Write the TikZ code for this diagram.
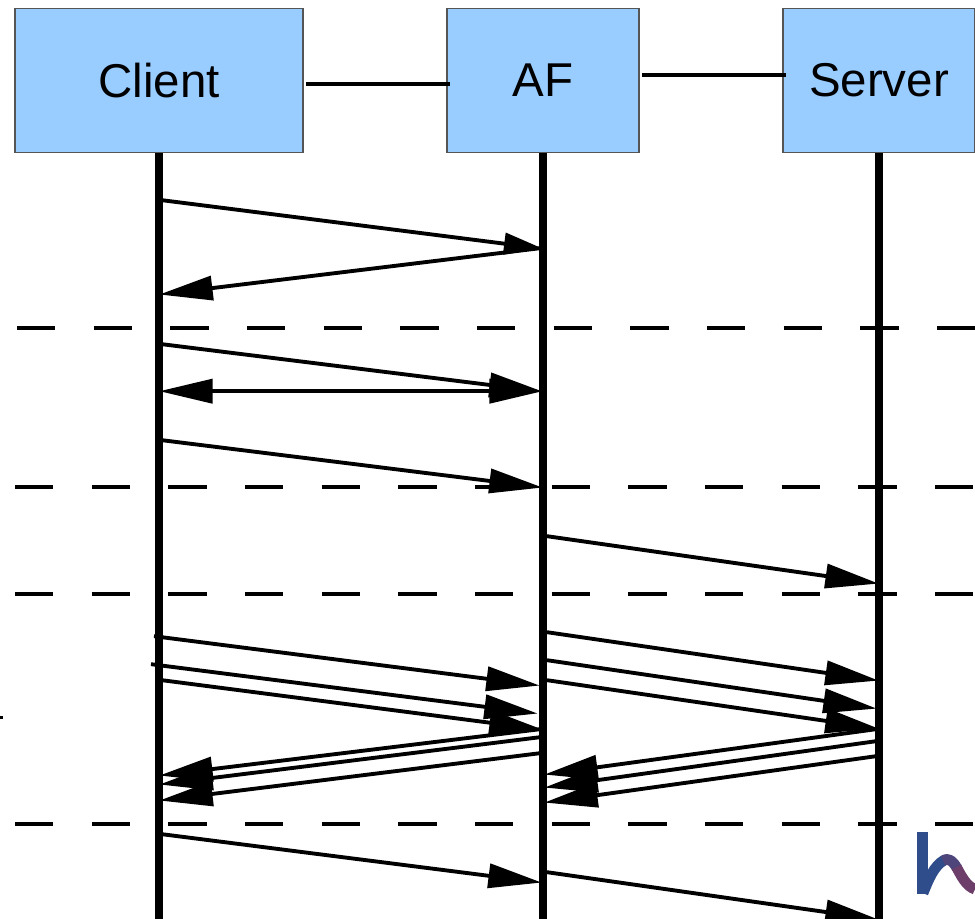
\documentclass[tikz,border=0pt]{standalone}
\usepackage{fontspec}
\setmainfont{Liberation Sans}
\usetikzlibrary{arrows.meta}
\definecolor{boxblue}{HTML}{99CCFF}
\definecolor{boxline}{HTML}{555555}
\definecolor{logoa}{HTML}{2F4D8A}
\definecolor{logob}{HTML}{7D3A62}
\tikzset{
  actor/.style={draw=boxline,line width=0.8pt,fill=boxblue,inner sep=0pt,minimum height=108pt,font=\fontsize{35.6}{42}\selectfont},
  lifeline/.style={line width=5.6pt,line cap=butt},
  link/.style={line width=2.9pt},
  divider/.style={line width=2.9pt,dash pattern=on 28.8pt off 28.7pt},
  msg/.style={line width=2.9pt,shorten >=-2pt,-{Triangle[length=40pt,width=18pt]}},
  msgshort/.style={line width=2.9pt,shorten >=-2pt,-{Triangle[length=29pt,width=16pt]}},
  msgboth/.style={line width=2.9pt,shorten >=-2pt,shorten <=-2pt,{Triangle[length=40pt,width=18pt]}-{Triangle[length=40pt,width=18pt]}},
  logostroke/.style={line width=8pt,line cap=butt,line join=round}
}
\begin{document}
\begin{tikzpicture}[x=0.75pt,y=-0.75pt]
\useasboundingbox (0,-0.2) rectangle (975,918.8);
\clip (0,-0.2) rectangle (975,918.8);
% boxes
\node[actor,minimum width=216pt] (client) at (159,80) {Client};
\node[actor,minimum width=144pt] (af) at (543,80) {AF};
\node[actor,minimum width=144pt] (server) at (879,80) {Server};
% named ends
\coordinate (cb) at (159,919); \coordinate (ab) at (543,919); \coordinate (sb) at (879,919);
\foreach \n/\xa/\ya/\xb/\yb in {
  d1/17/328/975/328, d2/15/487/975/487, d3/15/594/975/594, d4/15/824/975/824,
  l1/306/84/450/84, l2/642/75/786/75,
  m1/162/200/540/248, m2/540/248/162/294,
  m3/162/344/540/391, m4/162/391/540/391, m5/162/440/540/487,
  m6/547/536/876/583,
  m7/154/636/537/685, m8/151/664/535/713, m9/162/680/540/729,
  n1/540/729/162/775, n2/540/737/162/784, n3/540/753/162/800,
  p1/547/632/876/680, p2/547/660/874/708, p3/547/680/876/728,
  q1/876/729/547/774, q2/876/741/547/787, q3/876/756/547/802,
  r1/162/834/539/882, r2/547/872/876/919}
  {\coordinate (\n s) at (\xa,\ya); \coordinate (\n e) at (\xb,\yb);}
% dividers
\foreach \n in {d1,d2,d3,d4} \draw[divider] (\n s) -- (\n e);
% lifelines
\draw[lifeline] (client.south) -- (cb);
\draw[lifeline] (af.south) -- (ab);
\draw[lifeline] (server.south) -- (sb);
% box links
\draw[link] (l1s) -- (l1e);
\draw[link] (l2s) -- (l2e);
% messages
\draw[msgshort] (m1s) -- (m1e);
\foreach \n in {m2,m3,m5,m6,m7,m8,m9,n1,n2,n3,p1,p2,p3,q1,q2,q3,r1,r2} \draw[msg] (\n s) -- (\n e);
\draw[msgboth] (m4s) -- (m4e);
% stray tick at the left edge
\fill (0,715.5) rectangle (2.5,719);
% logo fragment
\fill[logoa] (917,832) rectangle (928,894);
\draw[logostroke,logoa] (923,893) .. controls (929,878) and (934,866) .. (944,860);
\draw[logostroke,logoa!60!logob] (943,860.5) .. controls (949,857) and (953,861) .. (957,868);
\draw[logostroke,logoa!20!logob] (956.5,867) .. controls (961,875) and (966,886) .. (975,889);
\end{tikzpicture}
\end{document}
